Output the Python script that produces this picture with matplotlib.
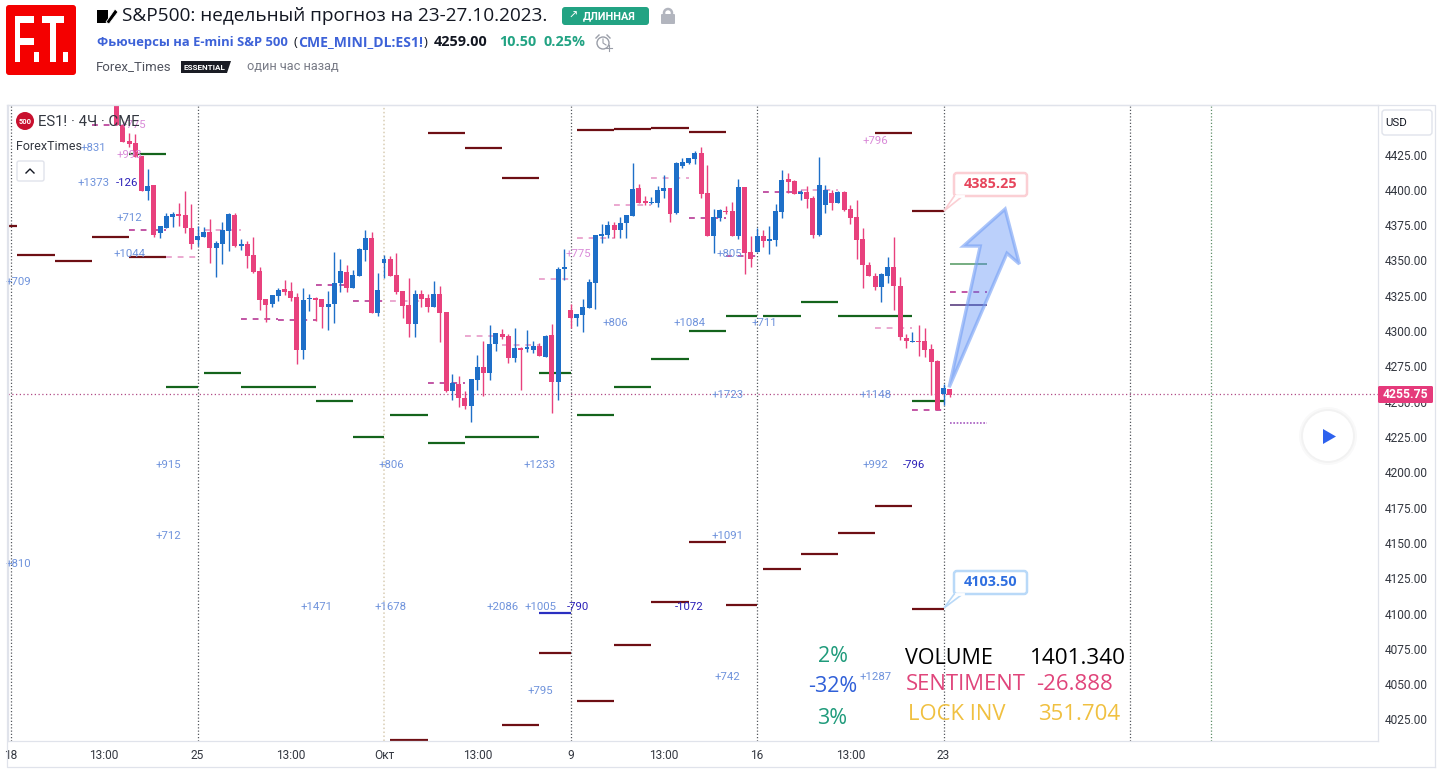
# === ES1! 4H CHART - S&P500 WEEKLY FORECAST ===

import matplotlib
matplotlib.use("Agg")
import matplotlib.pyplot as plt
from matplotlib.font_manager import FontProperties
from matplotlib.patches import Circle, FancyBboxPatch, PathPatch, Polygon, Rectangle
from matplotlib.textpath import TextPath
from matplotlib.transforms import Affine2D

# === CONFIG ===
W, H = 1441, 775
AX_LEFT, AX_RIGHT, AX_TOP, AX_BOTTOM = 8, 1378, 105, 741
BAR_ZERO_PX = 197.5
BAR_STEP_PX = 6.217
PRICE_SLOPE = 0.708
PRICE_AT_ZERO_PX = 4534.4

BLUE = "#1e6fc8"
PINK = "#e8417d"
DARK_RED = "#6e0f14"
DARK_GREEN = "#14641c"
BORDER = "#e0e3eb"
LABEL_BLUE = "#6f93dc"
LABEL_PINK = "#d98ad8"
LABEL_NAVY = "#2a1fb8"
TXT = "#333740"

# === DATA: CANDLES (first bar is index -13) ===
FIRST_BAR = -13
OPEN = [4463.5, 4446, 4434.6, 4433.2, 4424, 4399.2, 4403.4, 4369.4, 4373, 4380.8, 4382.9, 4382.2, 4373,
        4364.5, 4366.6, 4370.1, 4358.8, 4361.6, 4370.9, 4382.2, 4360.2, 4361.6, 4353.9, 4342.5, 4322.7,
        4319.2, 4324.8, 4329.8, 4328.4, 4324.1, 4286.6, 4322.7, 4323.4, 4322.7, 4317, 4319.2, 4334, 4341.8,
        4330.5, 4339, 4357.4, 4365.9, 4312.8, 4348.2, 4351, 4339.7, 4328.4, 4318.5, 4305, 4326.2, 4323.4,
        4317, 4326.2, 4313.5, 4257.6, 4262.5, 4252.6, 4247, 4265.4, 4274.6, 4270.3, 4290.8, 4297.9, 4296.5,
        4281, 4288, 4287.3, 4286.6, 4289.4, 4281.6, 4297.2, 4263.9, 4343.9, 4314.9, 4309.3, 4311.4, 4316.3,
        4334, 4367.3, 4368, 4375.1, 4371.6, 4376.5, 4381.5, 4401.3, 4392.1, 4390.7, 4390.7, 4399.2, 4401.3,
        4383.6, 4416.9, 4419, 4421.8, 4426.1, 4397.8, 4367.3, 4380, 4385, 4385, 4367.3, 4402, 4356, 4356,
        4367.3, 4363.8, 4364.5, 4384.3, 4407.7, 4406.2, 4397, 4398.5, 4394.2, 4368, 4389.3, 4397.8, 4390.7,
        4398.5, 4386.4, 4380.8, 4365.2, 4346.8, 4339, 4331.2, 4339, 4345.4, 4331.9, 4295.1, 4292.3, 4293,
        4293, 4287.3, 4278.8, 4255.4, 4259]
HIGH = [4463.5, 4446, 4440.2, 4439.5, 4424, 4414.7, 4403.5, 4374.4, 4383.6, 4384.3, 4390.7, 4399.2, 4390,
        4374.4, 4373.7, 4379.3, 4363.8, 4377.2, 4383.6, 4383.6, 4365.2, 4363.8, 4366.6, 4345.4, 4322.7,
        4325.5, 4330.5, 4336.2, 4334.7, 4326.9, 4330.5, 4326.2, 4324.1, 4322.7, 4328.4, 4356, 4351, 4346.8,
        4343.2, 4358.8, 4371.6, 4370.1, 4341.1, 4353.9, 4353.2, 4355.3, 4328.4, 4337.6, 4329.1, 4329.1,
        4326.2, 4335.4, 4331.9, 4313.5, 4269.6, 4268.2, 4257.6, 4266, 4283, 4293, 4304.3, 4298.6, 4301.5,
        4297.9, 4302.2, 4288.7, 4300.8, 4293, 4291.6, 4297.2, 4305, 4345.4, 4358.1, 4319.2, 4312.1, 4322.7,
        4336.9, 4368, 4375.8, 4377.9, 4377.2, 4380.8, 4382.2, 4419, 4404.1, 4395.6, 4394.9, 4402.7, 4410.5,
        4401.3, 4419.7, 4422.5, 4422.5, 4427.5, 4430.3, 4417.6, 4386.4, 4386.4, 4388.6, 4391.4, 4407.7,
        4402, 4367.3, 4373, 4371.6, 4374.4, 4390, 4414, 4411.9, 4406.9, 4399.9, 4402.7, 4395.6, 4423.2,
        4403.4, 4399.9, 4399.2, 4399.2, 4389.3, 4392.8, 4372.9, 4348.9, 4341.1, 4341.1, 4352.4, 4366.6,
        4338.3, 4297.9, 4299.3, 4304.3, 4302.2, 4290.8, 4279.5, 4262.5, 4259]
LOW = [4446, 4434, 4430.3, 4423, 4399, 4392.8, 4366.6, 4365.9, 4373, 4373.7, 4374.4, 4369.4, 4358.1, 4360.2,
       4366.6, 4348.2, 4338.3, 4347.5, 4356.7, 4359.5, 4357.4, 4344.7, 4341.1, 4314.9, 4306.4, 4317, 4321.3,
       4325.5, 4321.3, 4276.7, 4280.2, 4314.2, 4307.1, 4302.2, 4300.8, 4305.7, 4327.7, 4327.7, 4330.5, 4339,
       4349.6, 4312.8, 4310.7, 4337.6, 4339, 4326.2, 4309.3, 4295.8, 4295.8, 4317, 4313.5, 4317, 4292.3,
       4256.9, 4251.2, 4246.2, 4244.8, 4235.6, 4258.3, 4254, 4265.4, 4285.9, 4294.4, 4277.4, 4278.1, 4258.3,
       4285.2, 4284.5, 4282.4, 4281.6, 4242, 4251.2, 4336.2, 4302.2, 4303.6, 4299.4, 4316.3, 4315.6, 4362.4,
       4365.9, 4365.9, 4365.9, 4365.9, 4381.5, 4390.7, 4389.3, 4390, 4387.8, 4394.2, 4377.2, 4382.9, 4415.5,
       4418.3, 4418.3, 4394.2, 4367.3, 4355.3, 4377.9, 4382.9, 4367.3, 4365.2, 4340.4, 4345.4, 4356, 4359.5,
       4354.6, 4360.2, 4380, 4397.8, 4397, 4392.8, 4387.1, 4365.9, 4367.3, 4383.6, 4385.7, 4390.7, 4385,
       4375.8, 4351, 4330.5, 4339, 4329.1, 4320.6, 4334, 4314.9, 4293.7, 4288, 4292.3, 4282.4, 4281.6, 4254.7,
       4244.1, 4247.7, 4253.3]
CLOSE = [4446, 4434, 4432.4, 4423.2, 4399.2, 4402.7, 4368, 4374.4, 4381.5, 4382.9, 4381.5, 4373, 4361.6,
         4367.3, 4370.1, 4358.8, 4362.4, 4371.6, 4382.9, 4360.2, 4361.6, 4353.2, 4341.8, 4322, 4318.5, 4325.5,
         4329.1, 4327.7, 4323.4, 4286.6, 4322, 4323.4, 4322, 4317, 4319.2, 4334, 4342.5, 4330.5, 4339.7,
         4358.1, 4365.9, 4312.8, 4329.1, 4351, 4339, 4327.7, 4317.7, 4305, 4326.2, 4322.7, 4317, 4326.2,
         4312.8, 4257.6, 4263.2, 4252.6, 4247, 4266, 4274.6, 4270.3, 4290.8, 4298.6, 4295.8, 4281, 4288,
         4286.6, 4288.7, 4289.4, 4282.4, 4296.5, 4263.9, 4343.9, 4345.4, 4309.3, 4312.1, 4317, 4334.7, 4368,
         4368.7, 4375.1, 4371.6, 4376.5, 4382.2, 4400.6, 4390.7, 4390.7, 4391.4, 4399.9, 4401.3, 4382.9, 4419,
         4419.7, 4422.5, 4426.1, 4397, 4367.3, 4380.8, 4385.7, 4384.3, 4367.3, 4402, 4355.3, 4351, 4367.3,
         4363.8, 4365.2, 4385, 4406.9, 4405.5, 4397, 4398.5, 4393.5, 4368, 4403.4, 4399.9, 4390.7, 4398.5,
         4385.7, 4380, 4364.5, 4346.8, 4339, 4331.2, 4340.4, 4345.4, 4331.9, 4295.8, 4293, 4293, 4292.3,
         4286.6, 4278.1, 4244.1, 4259.7, 4254.7]

# === DATA: DAILY LEVELS ===
RED_START = [-31, -29, -23, -17, -11, 37, 43, 49, 61, 67, 73, 79, 109, 115,
             31, 49, 55, 61, 67, 73, 79, 85, 91, 97, 103, 109, 115]
RED_END = [-29, -23, -17, -11, -5, 43, 49, 55, 67, 73, 79, 85, 115, 120,
           37, 55, 60, 67, 73, 79, 85, 90, 97, 103, 109, 115, 120]
RED_PRICE = [4374.4, 4354.2, 4349.3, 4366.3, 4352.4, 4440.2, 4429.3, 4408.4, 4442.4, 4443.1, 4444.1, 4440.9,
             4440.2, 4385.25, 4010.5, 4021.1, 4072.4, 4038.1, 4077.7, 4108.2, 4151, 4106, 4131.5, 4142.5,
             4157, 4176.2, 4103.5]

GREEN_START = [-11, -5, 1, 7, 19, 25, 31, 37, 43, 55, 61, 67, 73, 79, 85, 91, 97, 103, 115]
GREEN_END = [-5, 0, 7, 19, 25, 30, 37, 43, 55, 60, 67, 73, 79, 85, 90, 97, 103, 115, 120]
GREEN_PRICE = [4425.4, 4260.4, 4270.3, 4260.4, 4250.5, 4225, 4240.6, 4220.8, 4225, 4270.3, 4240.6, 4260.4,
               4280.2, 4300, 4310.7, 4310.7, 4320.6, 4310.7, 4250.5]

DASH_START = [-17, -11, -5, 1, 7, 13, 19, 25, 31, 37, 43, 49, 55, 61, 67, 73, 79, 85, 91, 97, 109, 115, 121]
DASH_END = [-13, -5, 0, 7, 13, 19, 25, 30, 37, 43, 49, 55, 60, 67, 73, 79, 85, 90, 97, 103, 115, 120, 127]
DASH_PRICE = [4445.9, 4371.6, 4352.4, 4371.6, 4308.5, 4307.8, 4332.6, 4321.3, 4321.3, 4263.2, 4296.5, 4290.1,
              4336.9, 4365.9, 4389.5, 4408.4, 4380, 4353.2, 4398.5, 4399.9, 4302.2, 4244.1, 4327.7]
DASH_DARK = [1, 1, 0, 0, 1, 1, 1, 1, 0, 1, 0, 0, 0, 0, 0, 0, 1, 1, 1, 0, 0, 1, 1]

NAVY_BAR = [55, 60]
NAVY_PRICE = 4100.4
THIN_GREEN_BAR = [121, 127]
THIN_GREEN_PRICE = 4347.5
THIN_NAVY_PRICE = 4318.5
DOTTED_PRICE = 4234.9
LAST_PRICE = 4255.75

# === DATA: VOLUME LABELS ===
LABEL_TEXT = ["+709", "+831", "+775", "+993", "+1373", "-126", "+712", "+1044", "+775", "+806", "+1084",
              "+805", "+711", "+1723", "+1148", "+796", "+915", "+806", "+1233", "+992", "-796", "+712",
              "+1091", "+810", "+1471", "+1678", "+2086", "+1005", "-790", "-1072", "+795", "+742", "+1287"]
LABEL_BAR = [-28.9, -16.8, -10.4, -10.9, -16.8, -11.3, -10.9, -10.9, 61.2, 67.2, 79.2,
             85.5, 91.1, 85.3, 109.1, 109.1, -4.7, 31.1, 55.1, 109.1, 115.2, -4.7,
             85.2, -28.9, 19.2, 31.1, 49.1, 55.1, 61.2, 79.1, 55.1, 85.2, 109.1]
LABEL_PRICE = [4334.7, 4429.6, 4445.9, 4424.7, 4404.8, 4404.8, 4380, 4354.6, 4354.6, 4305.7, 4305.7,
               4354.6, 4305.7, 4254.7, 4254.7, 4434.6, 4205.2, 4205.2, 4205.2, 4205.2, 4205.2, 4154.9,
               4154.9, 4135.1, 4104.6, 4104.6, 4104.6, 4104.6, 4104.6, 4104.6, 4045.2, 4055.1, 4055.1]
LABEL_COLOR = ["b", "b", "p", "p", "b", "n", "b", "b", "p", "b", "b",
               "b", "b", "b", "b", "p", "b", "b", "b", "b", "n", "b",
               "b", "b", "b", "b", "b", "b", "n", "n", "b", "b", "b"]

# === DATA: AXES ===
PRICE_TICKS = [4025, 4050, 4075, 4100, 4125, 4150, 4175, 4200, 4225, 4250, 4275, 4300, 4325, 4350, 4375, 4400, 4425]
TIME_BARS = [-30, -15, 0, 15, 30, 45, 60, 75, 90, 105, 120]
TIME_LABELS = ["18", "13:00", "25", "13:00", "Окт", "13:00", "9", "13:00", "16", "13:00", "23"]
GRID_BARS = [-30, 0, 60, 90, 120, 150]
MONTH_BAR = 30
GREEN_GRID_BAR = 163

# Forecast arrow drawn on the chart
ARROW_BAR = [120.9, 125.9, 123.2, 129.9, 132.2, 130.2]
ARROW_PRICE = [4260.2, 4360.2, 4360.2, 4386.4, 4347.5, 4355.1]

plt.rcParams["font.family"] = ["Roboto", "Noto Sans", "DejaVu Sans"]
fig = plt.figure(figsize=(W / 100, H / 100), dpi=100, facecolor="white")

# === MAIN CHART ===
ax = fig.add_axes([AX_LEFT / W, 1 - AX_BOTTOM / H, (AX_RIGHT - AX_LEFT) / W, (AX_BOTTOM - AX_TOP) / H])
ax.set_xlim((AX_LEFT - BAR_ZERO_PX) / BAR_STEP_PX, (AX_RIGHT - BAR_ZERO_PX) / BAR_STEP_PX)
ax.set_ylim(PRICE_AT_ZERO_PX - PRICE_SLOPE * AX_BOTTOM, PRICE_AT_ZERO_PX - PRICE_SLOPE * AX_TOP)
for s in ax.spines.values():
    s.set_color(BORDER)
    s.set_linewidth(0.9)

ax.yaxis.tick_right()
ax.set_yticks(PRICE_TICKS, [f"{p:.2f}" for p in PRICE_TICKS], fontsize=8.6, color=TXT)
ax.set_xticks(TIME_BARS, TIME_LABELS, fontsize=8.6, color=TXT)
ax.tick_params(axis="both", length=0)
ax.tick_params(axis="y", pad=5)
ax.tick_params(axis="x", pad=6)

ax.vlines(GRID_BARS, 0, 1, transform=ax.get_xaxis_transform(), color="#55585f", lw=0.9, ls=(0, (1, 1.6)), zorder=1)
ax.vlines(MONTH_BAR, 0, 1, transform=ax.get_xaxis_transform(), color="#d8cdb4", lw=1.1, ls=(0, (1, 1.6)), zorder=1)
ax.vlines(GREEN_GRID_BAR, 0, 1, transform=ax.get_xaxis_transform(), color="#5f8f68", lw=0.9, ls=(0, (1, 1.6)), zorder=1)
ax.axhline(LAST_PRICE, color="#b04a86", lw=0.9, ls=(0, (1, 2)), zorder=1)

ax.hlines(RED_PRICE, RED_START, RED_END, color=DARK_RED, lw=1.6, zorder=2)
ax.hlines(GREEN_PRICE, GREEN_START, GREEN_END, color=DARK_GREEN, lw=1.6, zorder=2)
ax.hlines(NAVY_PRICE, NAVY_BAR[0], NAVY_BAR[1], color="#2a2fc0", lw=1.6, zorder=2)
ax.hlines(THIN_GREEN_PRICE, THIN_GREEN_BAR[0], THIN_GREEN_BAR[1], color="#5f9f6c", lw=1.2, zorder=2)
ax.hlines(THIN_NAVY_PRICE, THIN_GREEN_BAR[0], THIN_GREEN_BAR[1], color="#5a3f80", lw=1.2, zorder=2)
ax.hlines(DOTTED_PRICE, THIN_GREEN_BAR[0], THIN_GREEN_BAR[1], color="#a65ac0", lw=1.2, ls=(0, (1, 1)), zorder=2)
for a, b, p, d in zip(DASH_START, DASH_END, DASH_PRICE, DASH_DARK):
    ax.plot([a, b], [p, p], color="#b83a96" if d else "#e79ac8", lw=1.2, ls=(0, (3.5, 3.5)), zorder=2)

# candles
bars = list(range(FIRST_BAR, FIRST_BAR + len(OPEN)))
colors = [PINK if c < o else BLUE for o, c in zip(OPEN, CLOSE)]
ax.vlines(bars, LOW, HIGH, colors=colors, lw=1.0, zorder=3)
ax.bar(bars, [abs(c - o) for o, c in zip(OPEN, CLOSE)], bottom=[min(o, c) for o, c in zip(OPEN, CLOSE)],
       width=0.8, color=colors, linewidth=0, zorder=4)

lab_col = {"b": LABEL_BLUE, "p": LABEL_PINK, "n": LABEL_NAVY}
for t, x, y, c in zip(LABEL_TEXT, LABEL_BAR, LABEL_PRICE, LABEL_COLOR):
    ax.text(x, y, t, color=lab_col[c], fontsize=8.2, ha="center", va="center", zorder=5)

ax.add_patch(Polygon(list(zip(ARROW_BAR, ARROW_PRICE)), closed=True, facecolor=(0.30, 0.52, 0.96, 0.38),
                     edgecolor=(0.45, 0.62, 0.96, 0.6), lw=2.4, zorder=6, joinstyle="miter"))

# === PAGE OVERLAY (pixel coords) ===
ov = fig.add_axes([0, 0, 1, 1], facecolor="none")
ov.set_xlim(0, W)
ov.set_ylim(H, 0)
ov.axis("off")

# outer frame
ov.plot([7, 1435, 1435], [105, 105, 767], color=BORDER, lw=0.9)
ov.plot([7, 7, 1435], [105, 767, 767], color=BORDER, lw=0.9)


def box(x0, y0, x1, y1, fc, ec="none", lw=1.0, r=2.0, z=7):
    ov.add_patch(FancyBboxPatch((x0, y0), x1 - x0, y1 - y0, boxstyle=f"round,pad=0,rounding_size={r}",
                                facecolor=fc, edgecolor=ec, linewidth=lw, zorder=z))


# logo picture: glyphs stretched to the tall narrow shape of the original
box(6, 5, 76, 75, "#f40000", r=3)
logo_path = TextPath((0, 0), "F.T.", size=1, prop=FontProperties(family="Liberation Sans", weight="bold"))
lb = logo_path.get_extents()
logo_tf = Affine2D().translate(-lb.x0, -lb.y0).scale(53 / lb.width, -46 / lb.height).translate(15, 62)
ov.add_patch(PathPatch(logo_tf.transform_path(logo_path), facecolor="white", edgecolor="none", zorder=8))

# title line
ov.add_patch(Rectangle((97, 10), 11, 13, facecolor="black", edgecolor="none"))
ov.add_patch(Polygon([(106, 22), (115, 9), (118, 12), (109, 24)], closed=True, facecolor="black", edgecolor="white", lw=0.6))
ov.text(122, 16, "S&P500: недельный прогноз на 23-27.10.2023.", fontsize=13.65, color="#131722", va="center", family=["Open Sans", "DejaVu Sans"])
box(562, 7, 649, 25, "#22a383", r=3)
ov.text(568, 16, "↗", fontsize=8, color="white", va="center", family=["DejaVu Sans"], zorder=8)
ov.text(583, 16.5, "ДЛИННАЯ", fontsize=7.8, color="white", fontweight="bold", va="center", zorder=8)
box(661, 14, 675, 24, "#b2b5be", r=1)
ov.add_patch(Circle((668, 13), 4, facecolor="none", edgecolor="#b2b5be", lw=1.8))

# instrument line
ui = ["Open Sans", "DejaVu Sans"]
ov.text(97, 42.5, "Фьючерсы на E-mini S&P 500", fontsize=9.35, color="#3d62d8", fontweight="bold", va="center", family=ui)
ov.text(293.5, 42, "(", fontsize=9.5, color="#131722", va="center", family=ui)
ov.text(298, 42.5, "CME_MINI_DL:ES1!", fontsize=10.1, color="#3d62d8", fontweight="bold", va="center", family=ui)
ov.text(424, 42, ")", fontsize=9.5, color="#131722", va="center", family=ui)
ov.text(434, 42, "4259.00", fontsize=10.4, color="#131722", fontweight="bold", va="center", family=ui)
ov.text(499, 42, "10.50", fontsize=10.4, color="#22a383", fontweight="bold", va="center", family=ui)
ov.text(544, 42, "0.25%", fontsize=10.4, color="#22a383", fontweight="bold", va="center", family=ui)
ov.add_patch(Circle((603, 43), 6, facecolor="none", edgecolor="#9a9ea8", lw=1))
ov.plot([603, 603, 606], [39, 43, 45], color="#9a9ea8", lw=0.8)
ov.plot([596, 599], [38, 35], color="#9a9ea8", lw=1)
ov.plot([607, 610], [35, 38], color="#9a9ea8", lw=1)
ov.plot([606, 612], [48, 48], color="#9a9ea8", lw=0.8)
ov.plot([609, 609], [45, 51], color="#9a9ea8", lw=0.8)

# author line
ov.text(96, 67, "Forex_Times", fontsize=9.5, color="#50535e", va="center")
ov.add_patch(Polygon([(181, 61), (231, 61), (227, 73), (181, 73)], closed=True, facecolor="#1a1c24", edgecolor="none"))
ov.text(184, 67, "ESSENTIAL", fontsize=5.9, color="white", fontweight="bold", va="center")
ov.text(247, 67, "один час назад", fontsize=9.2, color="#787b86", va="center")

# chart legend
ov.add_patch(Circle((25, 121), 9, facecolor="#c8102e", edgecolor="none", zorder=7))
ov.text(25, 121.5, "500", fontsize=5.4, color="white", fontweight="bold", ha="center", va="center", zorder=8)
ov.text(38, 122, "ES1! · 4Ч · CME", fontsize=10.7, color="#333740", va="center", zorder=8)
ov.text(16, 146, "ForexTimes", fontsize=9, color="#333740", va="center", zorder=8)
box(17, 161, 44, 181, "white", BORDER, lw=1, r=2)
ov.plot([26, 30, 34], [173, 169, 173], color="#131722", lw=1, zorder=8)

# USD button, last price tag, play button
box(1382, 110, 1432, 135, "white", BORDER, lw=1, r=3)
ov.text(1385, 122.5, "USD", fontsize=8.2, color="#131722", va="center", zorder=8)
box(1378, 386, 1433, 403, "#e53a7b", r=1.5)
ov.text(1405.5, 394.5, f"{LAST_PRICE:.2f}", fontsize=8.8, color="white", fontweight="bold", ha="center", va="center", zorder=8)
for r, a in [(29, 0.03), (27, 0.04)]:
    ov.add_patch(Circle((1328, 436), r, facecolor="#50535e", edgecolor="none", alpha=a, zorder=6))
ov.add_patch(Circle((1328, 436), 25, facecolor="white", edgecolor="none", zorder=7))
ov.add_patch(Polygon([(1323, 429), (1336, 436.5), (1323, 444)], closed=True, facecolor="#2e62ee", edgecolor="none", zorder=8))

# target callouts
box(954, 173, 1027, 196, "white", "#fbcfd4", lw=1.8, r=3)
ov.add_patch(Polygon([(955, 195), (964, 195), (944, 211)], closed=True, facecolor="white", edgecolor="#fbcfd4", lw=1.2, zorder=6))
ov.plot([956, 963], [196, 196], color="white", lw=2, zorder=8)
ov.text(990.5, 183.5, "4385.25", fontsize=10.4, color="#e6455c", fontweight="bold", ha="center", va="center", zorder=9, family=ui)
box(954, 571, 1027, 594, "white", "#b9d9f8", lw=1.8, r=3)
ov.add_patch(Polygon([(955, 593), (964, 593), (944, 608)], closed=True, facecolor="white", edgecolor="#b9d9f8", lw=1.2, zorder=6))
ov.plot([956, 963], [594, 594], color="white", lw=2, zorder=8)
ov.text(990.5, 581.5, "4103.50", fontsize=10.4, color="#2f6fe0", fontweight="bold", ha="center", va="center", zorder=9, family=ui)

# sentiment block
big = ["Open Sans", "DejaVu Sans"]
ov.text(833, 656, "2%", fontsize=15.5, color="#1f9b7b", ha="center", va="center", family=big)
ov.text(833, 686, "-32%", fontsize=15.5, color="#2f5fd8", ha="center", va="center", family=big)
ov.text(832, 718, "3%", fontsize=15.5, color="#1f9b7b", ha="center", va="center", family=big)
ov.text(905, 658, "VOLUME", fontsize=15.5, color="black", va="center", family=big)
ov.text(1126, 658, "1401.340", fontsize=16.2, color="black", va="center", ha="right", family=big)
ov.text(906, 685, "SENTIMENT", fontsize=15.8, color="#e0457b", va="center", family=big)
ov.text(1113, 685, "-26.888", fontsize=16, color="#e0457b", va="center", ha="right", family=big)
ov.text(908, 714, "LOCK INV", fontsize=15.8, color="#f0c040", va="center", family=big)
ov.text(1120, 714, "351.704", fontsize=16, color="#f0c040", va="center", ha="right", family=big)

fig.savefig("out.png", dpi=100, facecolor="white")
